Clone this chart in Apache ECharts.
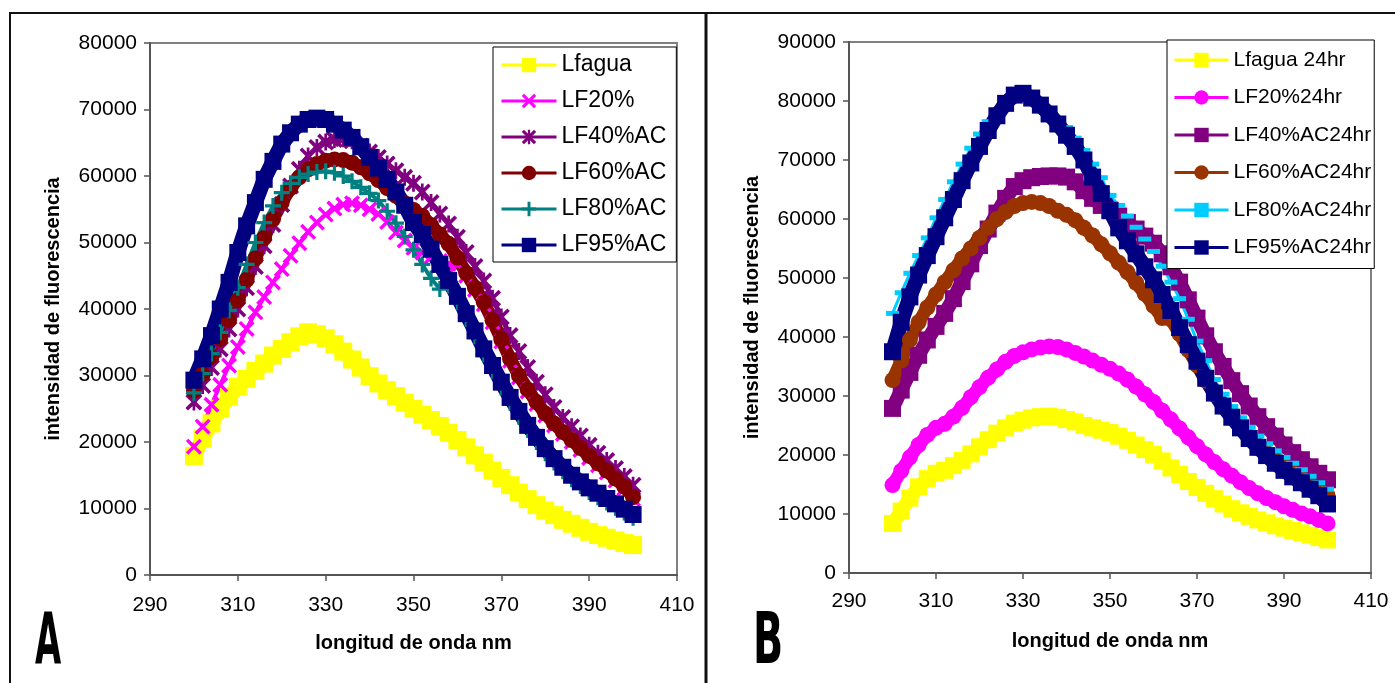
<!DOCTYPE html>
<html><head><meta charset="utf-8">
<script src="https://cdn.jsdelivr.net/npm/echarts@6/dist/echarts.min.js"></script>
<style>html,body{margin:0;padding:0;background:#fff}#c{width:1395px;height:683px}</style>
</head><body><div id="c"></div>
<script>
// wavelength (nm)
const wavelengths = [300,302,304,306,308,310,312,314,316,318,320,322,324,326,328,330,332,334,336,338,340,342,344,346,348,350,352,354,356,358,360,362,364,366,368,370,372,374,376,378,380,382,384,386,388,390,392,394,396,398,400];
const xTicks = [290,310,330,350,370,390,410];

// Panel A
const aLfagua = [17900,20500,22800,25000,26800,28300,29500,30700,31800,33000,34000,35000,35900,36500,36200,35600,34700,33600,32400,31200,29900,28800,27800,26900,25900,25000,24100,23300,22400,21400,20300,19200,18000,16900,15700,14600,13500,12400,11400,10500,9700,9000,8300,7700,7100,6500,6000,5600,5200,4800,4500];
const aLF20 = [19300,22300,25600,28600,31500,34300,37000,39500,41800,44000,46000,48000,49900,51600,53000,54200,55100,55700,55900,55600,55000,54300,53100,51500,50300,49200,48500,47800,47200,46800,46700,45000,42900,40700,38000,35100,32200,29700,27600,25700,24000,22500,21200,20000,18800,17600,16500,15400,14200,13000,11400];
const aLF40 = [26000,28500,31200,34000,37000,40000,43200,46400,49500,52700,55700,58500,61000,63000,64300,65100,65500,65600,65300,64500,63600,62800,61800,60800,59800,58900,57600,56000,54300,52800,50800,48500,46400,44200,41600,38800,36000,33600,31200,29000,27100,25200,23700,22300,20900,19500,18300,17200,16000,14800,13500];
const aLF60 = [27700,30200,32800,35500,38300,41300,44400,47600,50700,53500,56000,58200,59800,61000,61800,62300,62500,62400,62000,61300,60400,59400,58200,57000,55900,54900,54000,52600,51200,49800,47700,45400,43200,41000,38300,35400,32500,30000,27900,26000,24300,22800,21500,20300,19100,17900,16800,15700,14500,13300,11700];
const aLF80 = [27400,30300,33300,36500,39800,43200,46700,50000,53000,55500,57500,58900,59800,60300,60600,60700,60500,60000,59200,58300,57400,56300,54700,52900,50900,48900,46700,44600,43000,43500,41000,38500,35900,33200,30700,28200,25900,23800,21800,20000,18300,16900,15600,14400,13400,12500,11700,10900,10100,9400,8600];
const aLF95 = [29300,32500,36000,40000,44000,48500,52500,56000,59500,62200,64800,66500,67800,68500,68700,68500,67800,66900,65800,64400,62800,61200,59500,57600,55600,53000,51200,49000,46700,44300,41900,39300,36700,34000,31500,29000,26700,24600,22500,20700,19000,17500,16200,15000,14000,13100,12300,11500,10700,9900,9100];

// Panel B
const bLfagua = [8400,10500,12700,14600,16000,16900,17400,18200,19100,20200,21400,22600,23700,24600,25400,25900,26300,26500,26600,26400,26000,25600,25000,24600,24200,23800,23200,22500,21700,20900,20100,19000,17800,16700,15500,14500,13500,12600,11700,10900,10200,9600,9000,8500,8000,7600,7200,6800,6400,6000,5600];
const bLF20 = [14900,17300,19600,21700,23400,24600,25300,26500,28000,29800,31500,33100,34500,35800,36800,37400,37900,38200,38400,38300,37900,37300,36700,36000,35300,34600,33800,32800,31600,30300,29000,27500,26000,24500,23000,21500,20100,18800,17600,16500,15400,14400,13500,12700,12000,11300,10700,10100,9600,9000,8400];
const bLF40 = [27900,31000,34000,36900,39500,41800,44000,46500,49400,52400,55500,58300,61000,63500,65500,66500,67000,67200,67300,67300,67100,66300,64800,63500,62300,61500,60500,59400,58300,57100,55900,54100,51900,49300,46300,43200,40200,37500,35000,32600,30400,28300,26500,24800,23200,21700,20400,19200,18000,16900,15800];
const bLF60 = [32700,36000,39500,42500,45000,47200,49300,51300,53300,55000,56800,58500,60000,61200,62200,62700,62900,62700,62200,61400,60700,59800,58500,57200,55700,54200,52600,51000,49200,47300,45300,43200,43000,40500,37800,35200,32600,30300,28200,26300,24600,23000,21600,20300,19100,18000,17000,16000,15000,14100,13200];
const bLF80 = [44000,47500,50800,53800,56800,60200,63300,66300,69300,72000,74400,76500,78300,79500,80200,80300,79800,78900,77900,76800,75500,73700,71600,69300,67000,64000,62300,60500,58600,56600,54500,52000,49300,46500,43000,39300,36000,32800,30300,28200,26300,24700,23200,21900,20700,19600,18600,17500,16400,15300,14200];
const bLF95 = [37500,42500,46800,50500,53800,57000,60200,63300,66500,69500,72300,75000,77500,79600,81000,81300,80500,79300,77800,76100,74200,72300,70000,67100,64300,61400,58500,56300,54100,51900,49700,47200,44500,41600,38700,35900,33000,30500,28300,26400,24600,22800,21300,19900,18600,17400,16300,15300,14200,13100,11700];

const FONT = 'Liberation Sans, Arial, sans-serif';
const SYM_X = 'path://M0,1.5L1.5,0L5,3.5L8.5,0L10,1.5L6.5,5L10,8.5L8.5,10L5,6.5L1.5,10L0,8.5L3.5,5Z';
const SYM_STAR = 'path://M0,1.5L1.5,0L5,3.5L8.5,0L10,1.5L6.5,5L10,8.5L8.5,10L5,6.5L1.5,10L0,8.5L3.5,5Z M4.2,0L5.8,0L5.8,10L4.2,10Z';
const SYM_PLUS = 'path://M4,0L6,0L6,4L10,4L10,6L6,6L6,10L4,10L4,6L0,6L0,4L4,4Z';

function pairs(ys){ return wavelengths.map((x,i)=>[x, ys[i]]); }
function ser(name, arr, g, color, symbol, size, lw){
  return {type:'line', name, xAxisIndex:g, yAxisIndex:g, data:pairs(arr), symbol, symbolSize:size,
    itemStyle:{color, opacity:1}, lineStyle:{color, width:lw, cap:'butt', join:'round'},
    emphasis:{disabled:true}, silent:true, animation:false};
}

function xAx(g){
  return {gridIndex:g, type:'value', min:290, max:410, interval:20,
    axisLine:{show:true, onZero:false, lineStyle:{color:'#555', width:2}},
    axisTick:{show:true, length:6, lineStyle:{color:'#555', width:1.5}},
    axisLabel:{fontSize:21, color:'#000', margin:g===0?20:18, fontFamily:FONT, formatter:v=>String(v)},
    splitLine:{show:false},
    name:'longitud de onda nm', nameLocation:'middle', nameGap:58,
    nameTextStyle:{fontSize:20, fontWeight:'bold', color:'#000', fontFamily:FONT}};
}
function yAx(g, max){
  return {gridIndex:g, type:'value', min:0, max, interval:10000,
    axisLine:{show:true, lineStyle:{color:'#555', width:2}},
    axisTick:{show:true, length:6, lineStyle:{color:'#555', width:1.5}},
    axisLabel:{fontSize:21, color:'#000', margin:13, fontFamily:FONT, formatter:v=>String(v)},
    splitLine:{show:false},
    name:'intensidad de fluorescencia', nameLocation:'middle', nameGap:87, nameRotate:90,
    nameTextStyle:{fontSize:20, fontWeight:'bold', color:'#000', fontFamily:FONT}};
}

const chart = echarts.init(document.getElementById('c'));
chart.setOption({
  animation:false,
  backgroundColor:'#fff',
  grid:[
    {left:150, top:43, width:527, height:532, show:true, borderColor:'#808080', borderWidth:2},
    {left:849, top:42, width:522, height:531, show:true, borderColor:'#808080', borderWidth:2}
  ],
  xAxis:[xAx(0), xAx(1)],
  yAxis:[yAx(0,80000), yAx(1,90000)],
  legend:[
    {orient:'vertical', left:493, top:47, data:['Lfagua','LF20%','LF40%AC','LF60%AC','LF80%AC','LF95%AC'],
     itemWidth:55, itemHeight:18, itemGap:12, padding:[6,10,5,7], backgroundColor:'#fff', borderColor:'#000', borderWidth:1,
     borderRadius:0, selectedMode:false, lineStyle:{width:3},
     textStyle:{fontSize:23, lineHeight:24, color:'#000', fontFamily:FONT}},
    {orient:'vertical', left:1167, top:40, data:['Lfagua 24hr','LF20%24hr','LF40%AC24hr','LF60%AC24hr','LF80%AC24hr','LF95%AC24hr'],
     itemWidth:54, itemHeight:18, itemGap:15.5, padding:[9,3,10,6], backgroundColor:'#fff', borderColor:'#000', borderWidth:1,
     borderRadius:0, selectedMode:false, lineStyle:{width:3},
     textStyle:{fontSize:21, lineHeight:22, color:'#000', fontFamily:FONT}}
  ],
  series:[
    ser('Lfagua', aLfagua, 0, '#FFFF00', 'rect', 18, 15),
    ser('LF20%', aLF20, 0, '#FF00FF', SYM_X, 16, 4),
    ser('LF40%AC', aLF40, 0, '#800080', SYM_STAR, 17, 5),
    ser('LF60%AC', aLF60, 0, '#800000', 'circle', 16, 13),
    ser('LF80%AC', aLF80, 0, '#008080', SYM_PLUS, 16, 4),
    ser('LF95%AC', aLF95, 0, '#000080', 'rect', 17, 15),
    ser('Lfagua 24hr', bLfagua, 1, '#FFFF00', 'rect', 17, 14),
    ser('LF20%24hr', bLF20, 1, '#FF00FF', 'circle', 16, 13),
    ser('LF40%AC24hr', bLF40, 1, '#800080', 'rect', 17, 14),
    ser('LF60%AC24hr', bLF60, 1, '#993300', 'circle', 16, 13),
    ser('LF80%AC24hr', bLF80, 1, '#00CCFF', 'rect', [13,5], 3),
    ser('LF95%AC24hr', bLF95, 1, '#000080', 'rect', 17, 15)
  ],
  graphic:[
    {type:'line', shape:{x1:9, y1:13, x2:1395, y2:13}, style:{stroke:'#111', lineWidth:2}, silent:true},
    {type:'line', shape:{x1:10, y1:12, x2:10, y2:683}, style:{stroke:'#111', lineWidth:2}, silent:true},
    {type:'line', shape:{x1:706, y1:12, x2:706, y2:683}, style:{stroke:'#111', lineWidth:3}, silent:true},
    {type:'text', x:35, y:644, scaleX:0.47, silent:true,
     style:{text:'A', font:'bold 72px "DejaVu Sans"', fill:'#000', textAlign:'left', textVerticalAlign:'middle'}},
    {type:'text', x:753, y:644, scaleX:0.55, silent:true,
     style:{text:'B', font:'bold 72px "DejaVu Sans"', fill:'#000', textAlign:'left', textVerticalAlign:'middle'}}
  ]
});
</script></body></html>
